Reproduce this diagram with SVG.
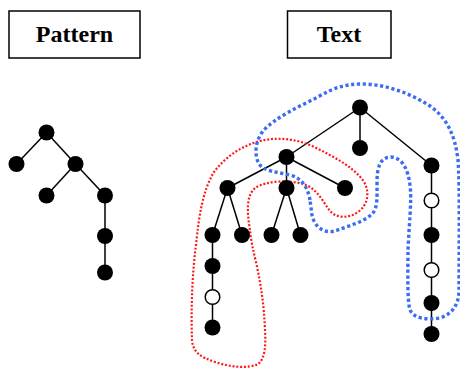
<svg xmlns="http://www.w3.org/2000/svg" width="460" height="368" viewBox="0 0 460 368">
  <style>
    .box { fill: #ffffff; stroke: #000000; stroke-width: 1.5; }
    .title { font-family: "Liberation Serif", "Times New Roman", serif; font-weight: bold; font-size: 24px; text-anchor: middle; fill: #000000; }
    .edge { stroke: #000000; stroke-width: 1.5; fill: none; }
    .n { fill: #000000; }
    .o { fill: #ffffff; stroke: #000000; stroke-width: 1.5; }
    .red { fill: none; stroke: #ff1a1a; stroke-width: 2.2; stroke-dasharray: 2 1.8; }
    .blue { fill: none; stroke: #3c6cf0; stroke-width: 3.4; stroke-dasharray: 3.2 2.6; }
  </style>

  <!-- titles -->
  <g id="pattern-label">
    <rect class="box" x="9" y="11" width="131" height="47"/>
    <text class="title" x="74.5" y="42">Pattern</text>
  </g>
  <g id="text-label">
    <rect class="box" x="287.5" y="11" width="103.5" height="47"/>
    <text class="title" x="339" y="42">Text</text>
  </g>

  <!-- tree edges -->
  <g id="connectors">
    <!-- pattern tree -->
    <line class="edge" x1="46.5" y1="132.5" x2="16.5" y2="164"/>
    <line class="edge" x1="46.5" y1="132.5" x2="75.5" y2="164"/>
    <line class="edge" x1="75.5" y1="164" x2="46.5" y2="195.5"/>
    <line class="edge" x1="75.5" y1="164" x2="105" y2="195.5"/>
    <line class="edge" x1="105" y1="195.5" x2="105" y2="272.5"/>
    <!-- text tree -->
    <line class="edge" x1="360" y1="107.5" x2="286.5" y2="157"/>
    <line class="edge" x1="360" y1="107.5" x2="360" y2="148"/>
    <line class="edge" x1="360" y1="107.5" x2="431.5" y2="165.5"/>
    <line class="edge" x1="286.5" y1="157" x2="227.5" y2="188"/>
    <line class="edge" x1="286.5" y1="157" x2="286.5" y2="188"/>
    <line class="edge" x1="286.5" y1="157" x2="345" y2="188"/>
    <line class="edge" x1="227.5" y1="188" x2="212.5" y2="235"/>
    <line class="edge" x1="227.5" y1="188" x2="242" y2="235"/>
    <line class="edge" x1="286.5" y1="188" x2="271.5" y2="235"/>
    <line class="edge" x1="286.5" y1="188" x2="300.5" y2="235"/>
    <line class="edge" x1="212.5" y1="235" x2="212.5" y2="327.5"/>
    <line class="edge" x1="431.5" y1="165.5" x2="431.5" y2="334"/>
  </g>

  <!-- occurrence outlines -->
  <g id="occurrences">
    <path id="match-red" class="red" d="M 250,230 C 247,212 246,196 255,188 C 265,181 290,179 306,185 C 318,190 323,202 330,211 C 336,218 348,219 358,212 C 368,205 370,192 364,182 C 355,168 335,157 312,146 C 298,140 285,138 272,139 C 250,141 228,153 214,172 C 203,190 199,215 196,245 C 192,275 191,310 192,340 C 193,352 200,357 215,362 C 230,367 248,369 258,364 C 265,359 266,345 265,330 C 264,305 261,285 256,262 C 253,250 251,240 250,230 Z"/>
    <path id="match-blue" class="blue" d="M 310,200 C 308,188 302,178 290,175 C 278,172 265,172 259,164 C 254,155 255,140 264,130 C 275,118 298,107 318,97 C 333,88 345,84 362,84 C 385,84 410,93 430,106 C 447,118 455,135 458,160 C 460,185 459,250 459,290 C 459,305 452,314 440,318 C 428,320 414,319 410,310 C 407,300 408,270 408,250 C 409,225 412,200 410,185 C 408,170 403,158 391,157 C 380,157 377,168 377,182 C 377,196 378,208 372,214 C 364,222 348,226 335,231 C 322,234 314,225 312,215 Z"/>
  </g>

  <!-- pattern nodes -->
  <g id="p-root"><circle class="n" cx="46.5" cy="132.5" r="8"/></g>
  <g id="p-left"><circle class="n" cx="16.5" cy="164" r="8"/></g>
  <g id="p-mid"><circle class="n" cx="75.5" cy="164" r="8"/></g>
  <g id="p-mid-left"><circle class="n" cx="46.5" cy="195.5" r="8"/></g>
  <g id="p-mid-right"><circle class="n" cx="105" cy="195.5" r="8"/></g>
  <g id="p-chain-1"><circle class="n" cx="105" cy="236" r="8"/></g>
  <g id="p-chain-2"><circle class="n" cx="105" cy="272.5" r="8"/></g>

  <!-- text nodes -->
  <g id="t-root"><circle class="n" cx="360" cy="107.5" r="8"/></g>
  <g id="t-mid"><circle class="n" cx="360" cy="148" r="8"/></g>
  <g id="t-right"><circle class="n" cx="431.5" cy="165.5" r="8"/></g>
  <g id="t-a"><circle class="n" cx="286.5" cy="157" r="8"/></g>
  <g id="t-b"><circle class="n" cx="227.5" cy="188" r="8"/></g>
  <g id="t-c"><circle class="n" cx="286.5" cy="188" r="8"/></g>
  <g id="t-d"><circle class="n" cx="345" cy="188" r="8"/></g>
  <g id="t-b1"><circle class="n" cx="212.5" cy="235" r="8"/></g>
  <g id="t-b2"><circle class="n" cx="242" cy="235" r="8"/></g>
  <g id="t-c1"><circle class="n" cx="271.5" cy="235" r="8"/></g>
  <g id="t-c2"><circle class="n" cx="300.5" cy="235" r="8"/></g>
  <g id="t-b1-1"><circle class="n" cx="212.5" cy="266" r="8"/></g>
  <g id="t-b1-2"><circle class="o" cx="212.5" cy="297" r="7.3"/></g>
  <g id="t-b1-3"><circle class="n" cx="212.5" cy="327.5" r="8"/></g>
  <g id="t-r1"><circle class="o" cx="431.5" cy="200.5" r="7.3"/></g>
  <g id="t-r2"><circle class="n" cx="431.5" cy="235" r="8"/></g>
  <g id="t-r3"><circle class="o" cx="431.5" cy="270" r="7.3"/></g>
  <g id="t-r4"><circle class="n" cx="431.5" cy="303" r="8"/></g>
  <g id="t-r5"><circle class="n" cx="431.5" cy="334" r="8"/></g>
</svg>
